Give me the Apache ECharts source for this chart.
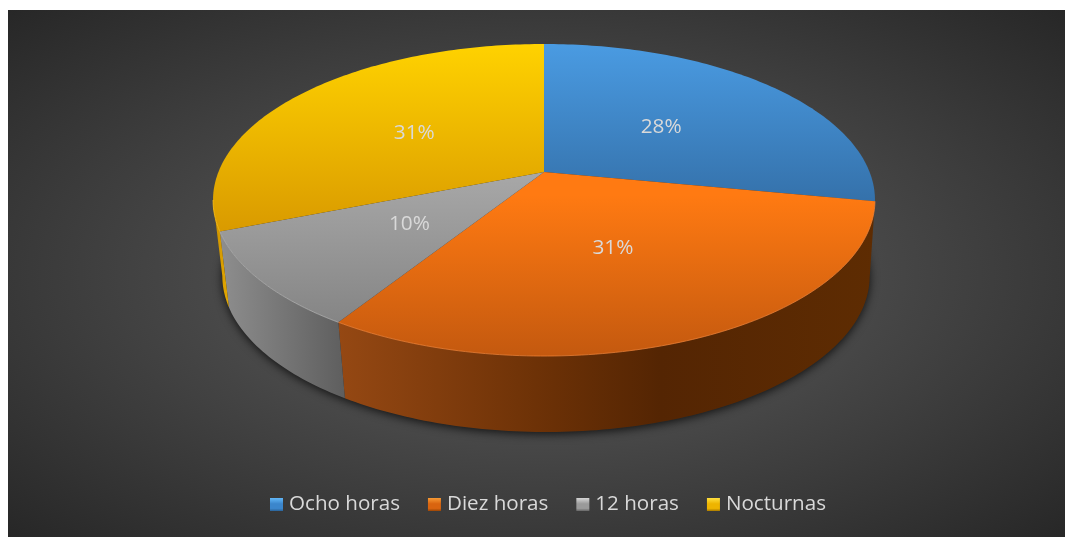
<!DOCTYPE html>
<html>
<head>
<meta charset="utf-8">
<script src="https://cdn.jsdelivr.net/npm/echarts@6/dist/echarts.min.js"></script>
<style>
html,body{margin:0;padding:0;background:#fff;width:1065px;height:537px;overflow:hidden}
#bg{position:absolute;left:8px;top:10px;width:1057px;height:527px;background:radial-gradient(ellipse farthest-corner at 50% 50%,#626262 0%,#272727 100%)}
#chart{position:absolute;left:0;top:0;width:1065px;height:537px}
</style>
</head>
<body>
<div id="bg"></div>
<div id="chart"></div>
<script>
var categories = ['Ocho horas', 'Diez horas', '12 horas', 'Nocturnas'];
var values = [28, 31, 10, 31];

var topColors = [['#4a9be2', '#3470a9'], ['#ff7a12', '#c4590f'], ['#a8a8a8', '#858585'], ['#ffd200', '#d99a00']];
var topRange = [[44, 205], [195, 356], [172, 322], [44, 232]];
var wallStops = [
  [[0, '#3470a9'], [1, '#2b5d8d']],
  [[0, '#954813'], [0.4, '#6a3006'], [0.6, '#542503'], [1, '#5e2c02']],
  [[0, '#8e8e8e'], [1, '#5e5e5e']],
  [[0, '#c98f00'], [1, '#e6aa00']]
];
var rimColors = ['#4a9be2', '#f08235', '#b4b4b4', '#ffc21a'];
var iconColors = [['#62b8f8', '#3b86cc', '#2a6398'], ['#f79a35', '#d9640f', '#9a4606'], ['#d6d6d6', '#9a9a9a', '#666666'], ['#ffe040', '#eeb400', '#a97a00']];

// Projection of the pie plane (perspective view)
var CX = 544, CY = 172, R = 325.6, B = 151, A = 0.1795;
var DEPTH = 76, LOW_K = 0.978, LOW_CX = 546;
var FRONT_A = 100.34, FRONT_B = 259.66;

function project(deg, r) {
  var t = deg * Math.PI / 180;
  var u = Math.sin(t) * r, v = Math.cos(t) * r, w = 1 + A * v;
  return [CX + R * u / w, CY - B * v / w];
}
function lower(p) {
  return [LOW_CX + (p[0] - CX) * LOW_K, p[1] + DEPTH];
}
function arc(a, b, step) {
  var pts = [], n = Math.max(1, Math.ceil((b - a) / (step || 1)));
  for (var i = 0; i <= n; i++) pts.push(project(a + (b - a) * i / n, 1));
  return pts;
}
var total = values.reduce(function (s, v) { return s + v; }, 0);

function linear(x0, y0, x1, y1, stops) {
  return {
    type: 'linear', global: true, x: x0, y: y0, x2: x1, y2: y1,
    colorStops: stops.map(function (s) { return { offset: s[0], color: s[1] }; })
  };
}

function sectorItem(params, api) {
  var i = params.seriesIndex - 1;
  var before = 0;
  for (var k = 0; k < i; k++) before += values[k];
  var value = api.value(0);
  var a = before / total * 360, b = (before + value) / total * 360;
  var children = [];

  var lo = Math.max(a, FRONT_A), hi = Math.min(b, FRONT_B);
  if (hi > lo + 1) {
    var topArc = arc(lo, hi);
    var lowArc = topArc.map(lower).reverse();
    var xs = topArc.concat(lowArc).map(function (p) { return p[0]; });
    children.push({
      type: 'polygon', z2: 1,
      shape: { points: topArc.concat(lowArc) },
      style: { fill: linear(Math.min.apply(null, xs), 0, Math.max.apply(null, xs), 0, wallStops[i]) }
    });
  }

  var face = [[CX, CY]].concat(arc(a, b));
  children.push({
    type: 'polygon', z2: 2,
    shape: { points: face },
    style: {
      fill: linear(0, topRange[i][0], 0, topRange[i][1], [[0, topColors[i][0]], [1, topColors[i][1]]])
    }
  });

  if (hi > lo + 1) {
    children.push({
      type: 'polyline', z2: 3,
      shape: { points: arc(lo, hi) },
      style: { fill: null, stroke: rimColors[i], lineWidth: 1, opacity: 0.75 }
    });
  }

  var mid = project((a + b) / 2, 0.5);
  children.push({
    type: 'text', z2: 4,
    x: mid[0] - 1.5, y: mid[1] + 1,
    style: {
      text: Math.round(value / total * 100) + '%',
      fill: '#d9d9d9',
      font: '20.8px "Open Sans", sans-serif',
      align: 'center', verticalAlign: 'middle'
    }
  });
  return { type: 'group', children: children };
}

function shadowItem() {
  var pts = arc(0, 360, 2).map(lower);
  return {
    type: 'polygon',
    shape: { points: pts },
    style: { fill: '#2a2a2a', shadowBlur: 10, shadowColor: 'rgba(0,0,0,0.75)', shadowOffsetX: 0, shadowOffsetY: 2 }
  };
}

var series = [{
  type: 'custom', name: 'sombra', coordinateSystem: 'none', silent: true,
  animation: false, data: [total], renderItem: shadowItem
}];
categories.forEach(function (name, i) {
  series.push({
    type: 'custom', name: name, coordinateSystem: 'none', animation: false,
    data: [values[i]], renderItem: sectorItem,
    itemStyle: { color: topColors[i][0] }
  });
});

var chart = echarts.init(document.getElementById('chart'), null, { renderer: 'canvas' });
chart.setOption({
  animation: false,
  backgroundColor: 'transparent',
  legend: {
    left: 265, top: 489,
    itemWidth: 13, itemHeight: 13, itemGap: 28,
    selectedMode: false,
    icon: 'rect',
    textStyle: { color: '#d9d9d9', fontSize: 20.6, fontFamily: '"Open Sans", sans-serif', padding: [0, 0, 0, 1] },
    data: categories.map(function (name, i) {
      return {
        name: name,
        itemStyle: { color: { type: 'linear', x: 0, y: 0, x2: 0, y2: 1,
          colorStops: [
            { offset: 0, color: iconColors[i][0] },
            { offset: 0.45, color: iconColors[i][1] },
            { offset: 0.8, color: iconColors[i][1] },
            { offset: 1, color: iconColors[i][2] }
          ] } }
      };
    })
  },
  series: series
});
</script>
</body>
</html>
